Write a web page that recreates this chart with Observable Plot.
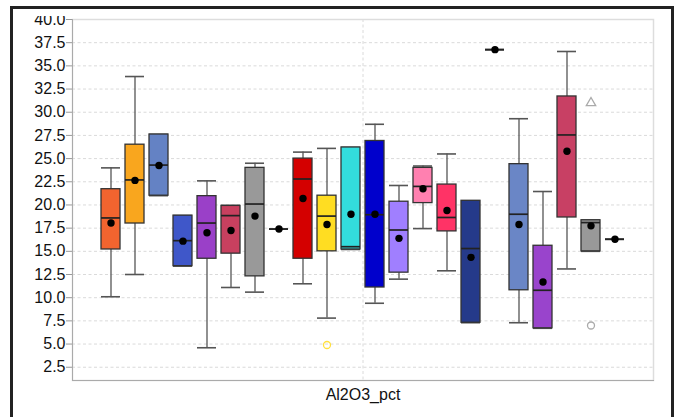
<!DOCTYPE html>
<html>
<head>
<meta charset="utf-8">
<script src="https://cdn.jsdelivr.net/npm/d3@7"></script>
<script src="https://cdn.jsdelivr.net/npm/@observablehq/plot@0.6"></script>
<style>
  html, body { margin: 0; padding: 0; background: #fff; }
  #wrap { position: relative; width: 675px; height: 417px; overflow: hidden; background: #fff; }
  #chart { position: absolute; left: 0; top: 0; }
  #cover { position: absolute; left: 13px; top: 9px; width: 100px; height: 7px; background: #fff; }
  #frame { position: absolute; left: 10px; top: 6px; width: 664px; height: 440px; box-sizing: border-box; border: 3px solid #222; }
</style>
</head>
<body>
<div id="wrap">
  <div id="chart"></div>
  <div id="cover"></div>
  <div id="frame"></div>
</div>
<script>
const facetLabel = "Al2O3_pct";
const groups = ["G01","G02","G03","G04","G05","G06","G07","G08","G09","G10","G11","G12","G13","G14","G15","G16","G17","G18","G19","G20","G21","G22"];
const colors = ["#F2642F","#F9A61E","#6482C4","#3F57C9","#9A40C8","#C8405F","#999999","#000000","#D40000","#FFDD22","#33DDDD","#0000CC","#A07FFF","#FF80B0","#FF3366","#253A8A","#000000","#6A86C6","#9944CC","#C84064","#999999","#000000"];
const whiskerLow  = [10.1, 12.5, 21.0, 13.4,  4.6, 11.1, 10.6, 17.4, 11.5,  7.8, 15.2,  9.4, 12.0, 17.45, 12.9,  7.3, 36.75,  7.3,  6.7, 13.1, 15.0, 16.3];
const q1          = [15.2, 18.0, 21.0, 13.4, 14.2, 14.75, 12.3, 17.4, 14.2, 15.0, 15.2, 11.1, 12.7, 20.2, 17.15,  7.3, 36.75, 10.8,  6.7, 18.65, 15.0, 16.3];
const median      = [18.6, 22.7, 24.3, 16.15, 18.05, 18.85, 20.1, 17.4, 22.8, 18.8, 15.5, 18.95, 17.3, 22.0, 18.65, 15.3, 36.75, 19.0, 10.8, 27.55, 18.1, 16.3];
const q3          = [21.7, 26.5, 27.6, 18.85, 20.95, 19.9, 24.0, 17.4, 25.0, 21.0, 26.2, 26.9, 20.35, 24.0, 22.2, 20.45, 36.75, 24.4, 15.6, 31.7, 18.35, 16.3];
const whiskerHigh = [24.0, 33.85, 27.6, 18.85, 22.6, 19.95, 24.5, 17.4, 25.7, 26.1, 26.2, 28.7, 22.1, 24.2, 25.5, 20.45, 36.75, 29.3, 21.45, 36.55, 18.35, 16.3];
const mean        = [18.05, 22.65, 24.25, 16.1, 17.0, 17.25, 18.8, 17.4, 20.7, 17.9, 19.0, 19.0, 16.4, 21.75, 19.4, 14.35, 36.75, 17.9, 11.7, 25.8, 17.75, 16.3];
const outlierGroup  = ["G10", "G21", "G21"];
const outlierValue  = [4.9, 31.0, 7.0];
const outlierSymbol = ["circle", "triangle", "circle"];
const outlierColor  = ["#FFE040", "#AAAAAA", "#AAAAAA"];
const yTicks = [2.5, 5.0, 7.5, 10.0, 12.5, 15.0, 17.5, 20.0, 22.5, 25.0, 27.5, 30.0, 32.5, 35.0, 37.5, 40.0];

const boxes = groups.map((g, i) => ({
  g, color: colors[i], lo: whiskerLow[i], q1: q1[i], med: median[i], q3: q3[i], hi: whiskerHigh[i], mean: mean[i], f: facetLabel
}));
const outliers = outlierGroup.map((g, i) => ({g, v: outlierValue[i], s: outlierSymbol[i], c: outlierColor[i], f: facetLabel}));

const fx = d => d.f;
const chart = Plot.plot({
  width: 675,
  height: 417,
  marginLeft: 72,
  marginRight: 22,
  marginTop: 19,
  marginBottom: 37,
  style: {fontFamily: "'Liberation Sans', Arial, sans-serif", fontSize: "16px", color: "#111", background: "transparent"},
  fx: {domain: [facetLabel], padding: 0, axis: null, label: null},
  x: {domain: groups, paddingInner: 0.22, paddingOuter: 1.19, axis: null},
  y: {domain: [1.07, 40], axis: null},
  color: {type: "identity"},
  symbol: {type: "identity"},
  marks: [
    Plot.gridY(yTicks, {stroke: "#dadada", strokeOpacity: 1, strokeDasharray: "3,2.5"}),
    Plot.gridFx({stroke: "#dadada", strokeOpacity: 1, strokeDasharray: "3,2.5"}),
    Plot.frame({stroke: "#dddddd", strokeWidth: 1.5}),
    Plot.frame({anchor: "left", stroke: "#aaaaaa"}),
    Plot.frame({anchor: "bottom", stroke: "#aaaaaa"}),
    Plot.axisY(yTicks, {tickFormat: d3.format(".1f"), tickSize: 6, tickPadding: 1, stroke: "#999", fill: "#111", fontSize: 16, label: null}),
    Plot.axisFx({anchor: "bottom", tickSize: 0, tickPadding: 8, fontSize: 16, fill: "#111", label: null}),
    Plot.ruleX(boxes, {fx, x: "g", y1: "lo", y2: "q1", stroke: "#555", strokeWidth: 1.3}),
    Plot.ruleX(boxes, {fx, x: "g", y1: "q3", y2: "hi", stroke: "#555", strokeWidth: 1.3}),
    Plot.tickY(boxes, {fx, x: "g", y: "lo", stroke: "#555", strokeWidth: 1.6}),
    Plot.tickY(boxes, {fx, x: "g", y: "hi", stroke: "#555", strokeWidth: 1.6}),
    Plot.barY(boxes, {fx, x: "g", y1: "q1", y2: "q3", fill: "color", stroke: "#333", strokeWidth: 1.3}),
    Plot.tickY(boxes, {fx, x: "g", y: "med", stroke: "#222", strokeWidth: 1.7}),
    Plot.dot(boxes, {fx, x: "g", y: "mean", r: 3.7, fill: "#000"}),
    Plot.dot(outliers, {fx, x: "g", y: "v", symbol: "s", stroke: "c", fill: "none", r: 3.5, strokeWidth: 1.3})
  ]
});
document.getElementById("chart").appendChild(chart);
</script>
</body>
</html>
